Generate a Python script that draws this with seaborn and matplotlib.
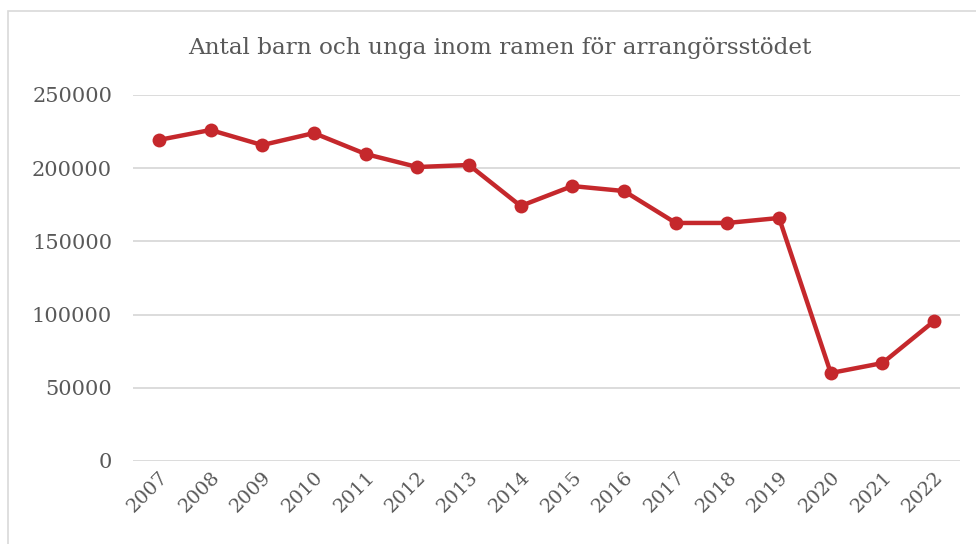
import pandas as pd
import seaborn as sns
import matplotlib.pyplot as plt
from matplotlib.patches import Rectangle

# data
years = [str(y) for y in range(2007, 2023)]
antal = [219300, 226100, 215800, 224000, 209700, 200800, 202200, 174200,
         187800, 184400, 162600, 162600, 166000, 60100, 66900, 95600]
yticks = [0, 50000, 100000, 150000, 200000, 250000]

df = pd.DataFrame({"year": years, "antal": antal})

sns.set_theme(style="white")
plt.rcParams["font.family"] = ["DejaVu Serif"]

fig = plt.figure(figsize=(9.76, 5.44), dpi=100)
ax = fig.add_axes([133 / 976, 83 / 544, 827 / 976, 366 / 544])

# kant runt diagrammet
fig.patches.append(Rectangle((8 / 976, -0.1), 1.2, (544 - 11) / 544 + 0.1,
                             transform=fig.transFigure, fill=False,
                             edgecolor="#d9d9d9", linewidth=1.2))

sns.lineplot(data=df, x="year", y="antal", ax=ax, color="#c5282c",
             linewidth=3.2, marker="o", markersize=10, markeredgewidth=0,
             sort=False)

ax.set_xlim(-0.5, len(years) - 0.5)
ax.set_ylim(0, 250000)
ax.set_yticks(yticks)
ax.set_yticklabels([str(t) for t in yticks])
ax.yaxis.grid(True, color="#d9d9d9", linewidth=1.3)
ax.set_axisbelow(True)
for s in ax.spines.values():
    s.set_visible(False)
ax.tick_params(axis="both", length=0, labelsize=14, colors="#595959")
ax.tick_params(axis="y", labelsize=15, pad=15)
ax.tick_params(axis="x", pad=5)
for lab in ax.get_xticklabels():
    lab.set_rotation(45)
    lab.set_ha("right")
    lab.set_rotation_mode("anchor")
ax.set_xlabel("")
ax.set_ylabel("")

fig.text(500 / 976, 1 - 48 / 544, "Antal barn och unga inom ramen för arrangörsstödet",
         ha="center", va="center", fontsize=16.7, color="#595959")

fig.savefig("out.png", dpi=100)
